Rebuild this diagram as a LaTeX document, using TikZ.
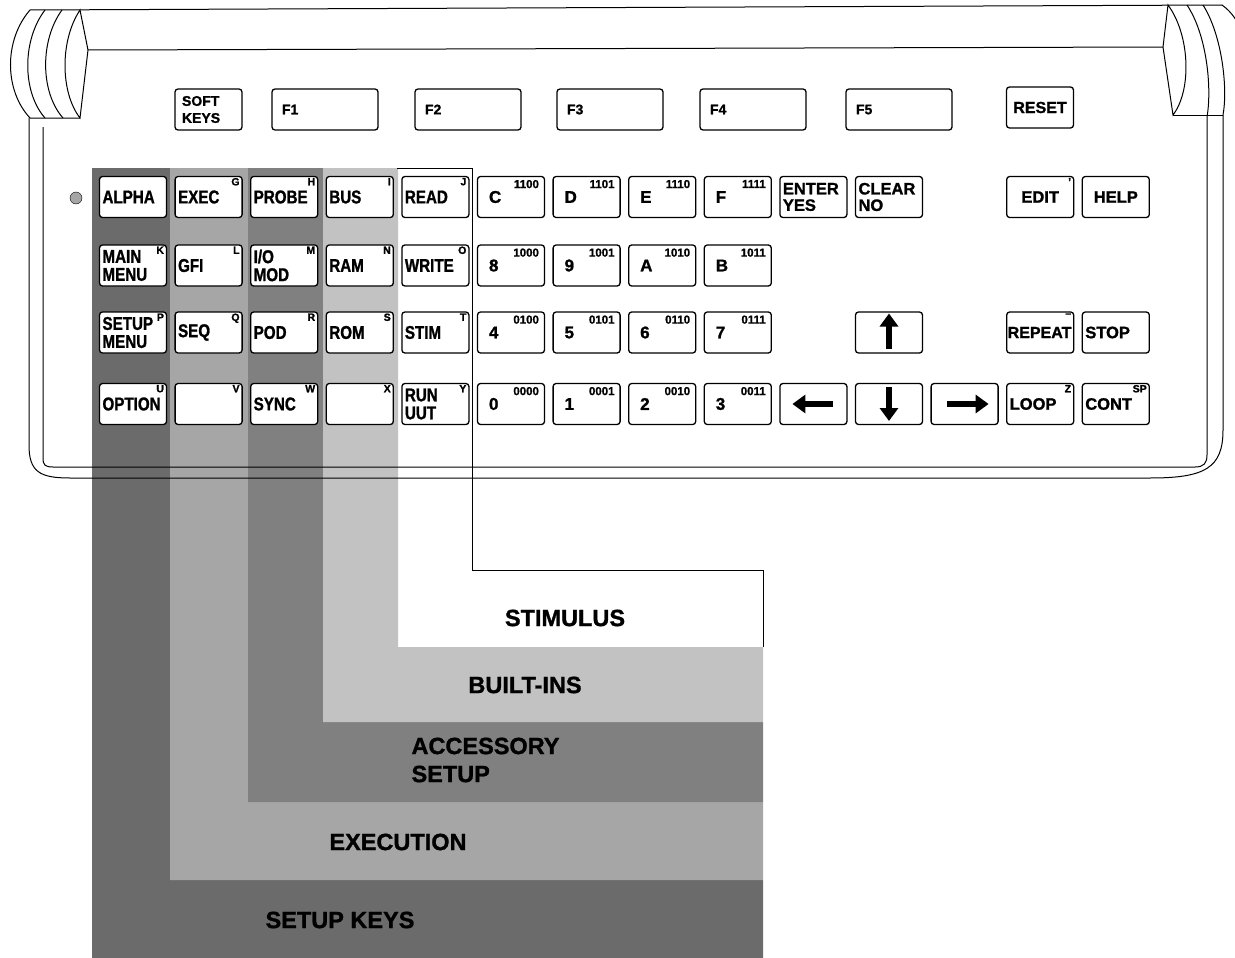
\documentclass[tikz,border=0pt]{standalone}
\usepackage{fontspec}
\setmainfont{Liberation Sans}[BoldFeatures={FakeBold=1.2}]
\newfontfamily\narrowfont{Liberation Sans}[FakeStretch=0.82, BoldFeatures={FakeBold=1.2}]
\usetikzlibrary{arrows.meta, calc}

\tikzset{
  kbkey/.style={draw, line width=1.3pt, fill=white, rounded corners=3pt,
    minimum height=41pt, text width=61pt, inner xsep=3pt, inner ysep=0pt,
    align=left, font=\narrowfont\bfseries\fontsize{18.5}{18}\selectfont},
  hexkey/.style={kbkey, text width=44pt, inner xsep=11.5pt,
    font=\bfseries\fontsize{17}{17}\selectfont},
  rkey/.style={kbkey, font=\bfseries\fontsize{16.5}{16.5}\selectfont},
  fkey/.style={kbkey, text width=86pt, inner xsep=10pt,
    font=\bfseries\fontsize{14}{17}\selectfont},
  keytag/.style={anchor=north east, xshift=-3pt, yshift=-2pt, inner sep=0pt,
    font=\bfseries\fontsize{10.5}{10.5}\selectfont},
  bits/.style={keytag, xshift=-3pt, yshift=-2pt,
    font=\bfseries\fontsize{11.5}{11.5}\selectfont},
  bigarrow/.style={line width=6pt, -{Triangle[length=13pt, width=18pt]}},
  region/.style={font=\bfseries\fontsize{23.5}{28}\selectfont, align=left},
  casing/.style={line width=1pt},
}

\begin{document}
\begin{tikzpicture}[x=1pt, y=-1pt]
  \useasboundingbox (0,0) rectangle (1235,958);
  % Shaded key groups, each one an L down to its label.
  \fill[black!58] (92,168) -- (170,168) -- (170,880) -- (763,880) -- (763,958) -- (92,958) -- cycle;
  \fill[black!35] (170,168) -- (248,168) -- (248,802) -- (763,802) -- (763,880) -- (170,880) -- cycle;
  \fill[black!50] (248,168) -- (323,168) -- (323,722) -- (763,722) -- (763,802) -- (248,802) -- cycle;
  \fill[black!24] (323,168) -- (398,168) -- (398,647) -- (763,647) -- (763,722) -- (323,722) -- cycle;
  % Stimulus outline.
  \draw[casing] (397,168) -- (472,168) -- (472,570) -- (763,570) -- (763,647);

  % Case and the two rolled handles.
  \draw[casing] (30,10) -- (1222,5);
  \draw[casing] (88,50) -- (1163,47);
  \draw[casing] (30,10) .. controls (4,40) and (4,90) .. (30,118) -- (80,118);
  \draw[casing] (45,10) .. controls (22,40) and (22,92) .. (45,118);
  \draw[casing] (62,10) .. controls (40,40) and (40,92) .. (63,118);
  \draw[casing] (80,10) .. controls (60,40) and (60,92) .. (80,118) -- (88,50) -- cycle;
  \draw[casing] (1168,5) .. controls (1190,35) and (1192,90) .. (1173,115) -- (1163,47) -- cycle;
  \draw[casing] (1187,5) .. controls (1207,35) and (1212,88) .. (1207,117);
  \draw[casing] (1203,5) .. controls (1222,35) and (1228,88) .. (1223,115);
  \draw[casing] (1222,5) .. controls (1232,12) and (1238,22) .. (1242,32);
  \draw[casing] (1173,115) -- (1223,115);
  \draw[casing] (29,118) -- (29,445) .. controls (29,472) and (40,478) .. (70,478)
    -- (1150,478) .. controls (1205,478) and (1223,468) .. (1223,430) -- (1223,115);
  \draw[casing] (43,127) -- (43,458) .. controls (43,465) and (45,467) .. (53,467)
    -- (1195,467) .. controls (1204,467) and (1207,463) .. (1207,455) -- (1207,117);

  % Soft keys.
  \node[kbkey, text width=53pt, inner xsep=7pt, font=\bfseries\fontsize{14}{17}\selectfont]
    (softkeys) at (208.5,109.5) {SOFT\\KEYS};
  \foreach \n/\x in {1/325, 2/468, 3/610, 4/753, 5/899}
    \node[fkey] (f\n) at (\x,109.5) {F\n};
  \node[rkey, align=center, font=\bfseries\fontsize{16}{16}\selectfont] (reset) at (1040,107.5) {RESET};

  \node[circle, draw, fill=black!35, minimum size=12pt, inner sep=0pt] (led) at (76,198) {};

  % Function keys.
  \foreach \n/\x/\y/\txt/\tg in {
      alpha/0/197/ALPHA/{}, exec/1/197/EXEC/G, probe/2/197/PROBE/H, bus/3/197/BUS/I, read/4/197/READ/J,
      mainmenu/0/265.5/{MAIN\\MENU}/K, gfi/1/265.5/GFI/L, iomod/2/265.5/{I/O\\MOD}/M, ram/3/265.5/RAM/N, write/4/265.5/WRITE/O,
      setupmenu/0/332.5/{SETUP\\MENU}/P, seq/1/332.5/SEQ/Q, pod/2/332.5/POD/R, rom/3/332.5/ROM/S, stim/4/332.5/STIM/T,
      option/0/404/OPTION/U, blankv/1/404/{}/V, sync/2/404/SYNC/W, blankx/3/404/{}/X, run/4/404/{RUN\\UUT}/Y}
    \node[kbkey, label={[keytag]north east:\tg}] (\n) at (75.6*\x+133,\y) {\txt};

  % Hex keys with their bit patterns.
  \foreach \n/\x/\y/\txt/\tg in {
      hc/5/197/C/1100, hd/6/197/D/1101, he/7/197/E/1110, hf/8/197/F/1111,
      h8/5/265.5/8/1000, h9/6/265.5/9/1001, ha/7/265.5/A/1010, hb/8/265.5/B/1011,
      h4/5/332.5/4/0100, h5/6/332.5/5/0101, h6/7/332.5/6/0110, h7/8/332.5/7/0111,
      h0/5/404/0/0000, h1/6/404/1/0001, h2/7/404/2/0010, h3/8/404/3/0011}
    \node[hexkey, label={[bits]north east:\tg}] (\n) at (75.6*\x+133,\y) {\txt};

  % Right hand keys.
  \node[rkey] (enter) at (75.6*9+133,197) {ENTER\\YES};
  \node[rkey] (clear) at (75.6*10+133,197) {CLEAR\\NO};
  \node[rkey, align=center, label={[keytag]north east:'}] (edit) at (75.6*12+133,197) {EDIT};
  \node[rkey, align=center] (help) at (75.6*13+133,197) {HELP};
  \node[rkey] (uarrow) at (75.6*10+133,332.5) {};
  \node[rkey, text width=65pt, inner xsep=1pt, font=\bfseries\fontsize{16}{16}\selectfont,
    label={[keytag]north east:--}] (repeat) at (75.6*12+133,332.5) {REPEAT};
  \node[rkey] (stop) at (75.6*13+133,332.5) {STOP};
  \node[rkey] (larrow) at (75.6*9+133,404) {};
  \node[rkey] (darrow) at (75.6*10+133,404) {};
  \node[rkey] (rarrow) at (75.6*11+133,404) {};
  \node[rkey, label={[keytag]north east:Z}] (loop) at (75.6*12+133,404) {LOOP};
  \node[rkey, label={[keytag]north east:SP}] (cont) at (75.6*13+133,404) {CONT};
  \draw[bigarrow] ($(uarrow.center)+(0,16)$) -- ($(uarrow.center)+(0,-19)$);
  \draw[bigarrow] ($(larrow.center)+(20,0)$) -- ($(larrow.center)+(-21,0)$);
  \draw[bigarrow] ($(darrow.center)+(0,-17)$) -- ($(darrow.center)+(0,17)$);
  \draw[bigarrow] ($(rarrow.center)+(-18,0)$) -- ($(rarrow.center)+(24,0)$);

  % Group labels.
  \node[region] (stimlabel) at (565,618) {STIMULUS};
  \node[region] (builtlabel) at (525,685) {BUILT-INS};
  \node[region, anchor=west] (acclabel) at (408,760) {ACCESSORY\\SETUP};
  \node[region] (execlabel) at (398,842) {EXECUTION};
  \node[region] (setuplabel) at (340,920) {SETUP KEYS};
\end{tikzpicture}
\end{document}
